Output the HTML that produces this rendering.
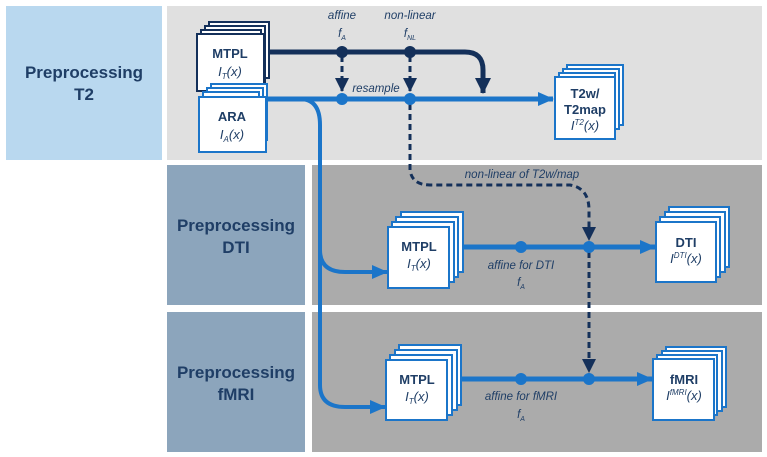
<!DOCTYPE html>
<html><head><meta charset="utf-8"><style>
body{margin:0;width:767px;height:457px;background:#fff;overflow:hidden}
svg{display:block}
text{font-family:"Liberation Sans",sans-serif}
</style></head><body>
<svg width="767" height="457" viewBox="0 0 767 457" xmlns="http://www.w3.org/2000/svg">
<defs>
<marker id="ab" markerWidth="16" markerHeight="14" refX="15" refY="7" orient="auto" markerUnits="userSpaceOnUse" viewBox="0 0 16 14"><path d="M0,0 L16,7 L0,14z" fill="#1b75c9"/></marker>
<marker id="ad" markerWidth="14" markerHeight="14" refX="13" refY="7" orient="auto" markerUnits="userSpaceOnUse" viewBox="0 0 14 14"><path d="M0,0 L14,7 L0,14z" fill="#14305a"/></marker>
<marker id="ad2" markerWidth="16" markerHeight="16" refX="15" refY="8" orient="auto" markerUnits="userSpaceOnUse" viewBox="0 0 16 16"><path d="M0,0 L16,8 L0,16z" fill="#14305a"/></marker>
</defs>
<rect x="6" y="6" width="156" height="154" fill="#b9d8ef"/>
<rect x="167" y="6" width="595" height="154" fill="#e0e0e0"/>
<rect x="167" y="165" width="138" height="140" fill="#8ca5bc"/>
<rect x="312" y="165" width="450" height="140" fill="#ababab"/>
<rect x="167" y="312" width="138" height="140" fill="#8ca5bc"/>
<rect x="312" y="312" width="450" height="140" fill="#ababab"/>
<g font-size="17" font-weight="bold" fill="#1f3e66" text-anchor="middle">
<text x="84" y="78">Preprocessing</text><text x="84" y="100">T2</text>
<text x="236" y="231">Preprocessing</text><text x="236" y="253">DTI</text>
<text x="236" y="378">Preprocessing</text><text x="236" y="400">fMRI</text>
</g>
<g fill="#fff" stroke-width="2">
<g stroke="#14305a"><rect x="209" y="22" width="60" height="56"/><rect x="205" y="26" width="60" height="56"/><rect x="201" y="30" width="60" height="56"/><rect x="197" y="34" width="67" height="57"/></g>
<g stroke="#1b75c9"><rect x="211" y="84" width="56" height="56"/><rect x="207" y="88" width="56" height="56"/><rect x="203" y="92" width="56" height="56"/><rect x="199" y="97" width="67" height="55"/></g>
<g stroke="#1b75c9"><rect x="567" y="65" width="56" height="60"/><rect x="563" y="69" width="56" height="60"/><rect x="559" y="73" width="56" height="60"/><rect x="555" y="77" width="60" height="62"/></g>
<g stroke="#1b75c9"><rect x="401" y="212" width="62" height="60"/><rect x="396" y="217" width="62" height="60"/><rect x="392" y="222" width="62" height="60"/><rect x="388" y="227" width="61" height="61"/></g>
<g stroke="#1b75c9"><rect x="669" y="207" width="60" height="60"/><rect x="665" y="212" width="60" height="60"/><rect x="660" y="217" width="60" height="60"/><rect x="656" y="222" width="60" height="60"/></g>
<g stroke="#1b75c9"><rect x="399" y="345" width="62" height="60"/><rect x="395" y="350" width="62" height="60"/><rect x="390" y="355" width="62" height="60"/><rect x="386" y="360" width="61" height="60"/></g>
<g stroke="#1b75c9"><rect x="666" y="347" width="60" height="60"/><rect x="662" y="351" width="60" height="60"/><rect x="657" y="355" width="60" height="60"/><rect x="653" y="359" width="61" height="61"/></g>
</g>
<g font-size="13" font-weight="bold" fill="#1f3e66" text-anchor="middle">
<text x="230" y="58">MTPL</text><text x="230" y="76" font-style="italic" font-weight="normal">I<tspan font-size="8" dy="3">T</tspan><tspan dy="-3">(x)</tspan></text>
<text x="232" y="121">ARA</text><text x="232" y="139" font-style="italic" font-weight="normal">I<tspan font-size="8" dy="3">A</tspan><tspan dy="-3">(x)</tspan></text>
<text x="585" y="98">T2w/</text><text x="585" y="114">T2map</text><text x="585" y="130" font-style="italic" font-weight="normal">I<tspan font-size="8" dy="-5">T2</tspan><tspan dy="5">(x)</tspan></text>
<text x="419" y="251">MTPL</text><text x="419" y="268" font-style="italic" font-weight="normal">I<tspan font-size="8" dy="3">T</tspan><tspan dy="-3">(x)</tspan></text>
<text x="686" y="247">DTI</text><text x="686" y="263" font-style="italic" font-weight="normal">I<tspan font-size="8" dy="-5">DTI</tspan><tspan dy="5">(x)</tspan></text>
<text x="417" y="384">MTPL</text><text x="417" y="401" font-style="italic" font-weight="normal">I<tspan font-size="8" dy="3">T</tspan><tspan dy="-3">(x)</tspan></text>
<text x="684" y="384">fMRI</text><text x="684" y="400" font-style="italic" font-weight="normal">I<tspan font-size="8" dy="-5">fMRI</tspan><tspan dy="5">(x)</tspan></text>
</g>
<g fill="none" stroke="#1b75c9" stroke-width="5">
<path d="M268,99 L553,99" marker-end="url(#ab)"/>
<path d="M268,99 L300,99 Q320,99 320,125 L320,250 Q320,272 345,272 L387,272" stroke-width="4" marker-end="url(#ab)"/>
<path d="M320,250 L320,385 Q320,407 345,407 L385,407" stroke-width="4" marker-end="url(#ab)"/>
<path d="M463,247 L655,247" marker-end="url(#ab)"/>
<path d="M461,379 L652,379" marker-end="url(#ab)"/>
</g>
<path d="M268,52 L465,52 Q483,52 483,70 L483,93" fill="none" stroke="#14305a" stroke-width="5" marker-end="url(#ad2)"/>
<g stroke="#14305a" stroke-width="3" stroke-dasharray="6,4" fill="none">
<path d="M342,56 L342,91" marker-end="url(#ad)"/>
<path d="M410,56 L410,91" marker-end="url(#ad)"/>
<path d="M410,104 L410,170 Q412,185 430,185 L570,185 Q589,188 589,210 L589,240" marker-end="url(#ad)"/>
<path d="M589,252 L589,372" marker-end="url(#ad)"/>
</g>
<g fill="#14305a"><circle cx="342" cy="52" r="6"/><circle cx="410" cy="52" r="6"/></g>
<g fill="#1b75c9"><circle cx="342" cy="99" r="6"/><circle cx="410" cy="99" r="6"/>
<circle cx="521" cy="247" r="6"/><circle cx="589" cy="247" r="6"/>
<circle cx="521" cy="379" r="6"/><circle cx="589" cy="379" r="6"/></g>
<g font-size="11.5" font-style="italic" fill="#1f3e66" text-anchor="middle">
<text x="342" y="19">affine</text><text x="342" y="37">f<tspan font-size="7" dy="3">A</tspan></text>
<text x="410" y="19">non-linear</text><text x="410" y="37">f<tspan font-size="7" dy="3">NL</tspan></text>
<text x="376" y="92">resample</text>
<text x="522" y="178">non-linear of T2w/map</text>
<text x="521" y="269">affine for DTI</text><text x="521" y="286">f<tspan font-size="7" dy="3">A</tspan></text>
<text x="521" y="400">affine for fMRI</text><text x="521" y="418">f<tspan font-size="7" dy="3">A</tspan></text>
</g>
</svg>
</body></html>
